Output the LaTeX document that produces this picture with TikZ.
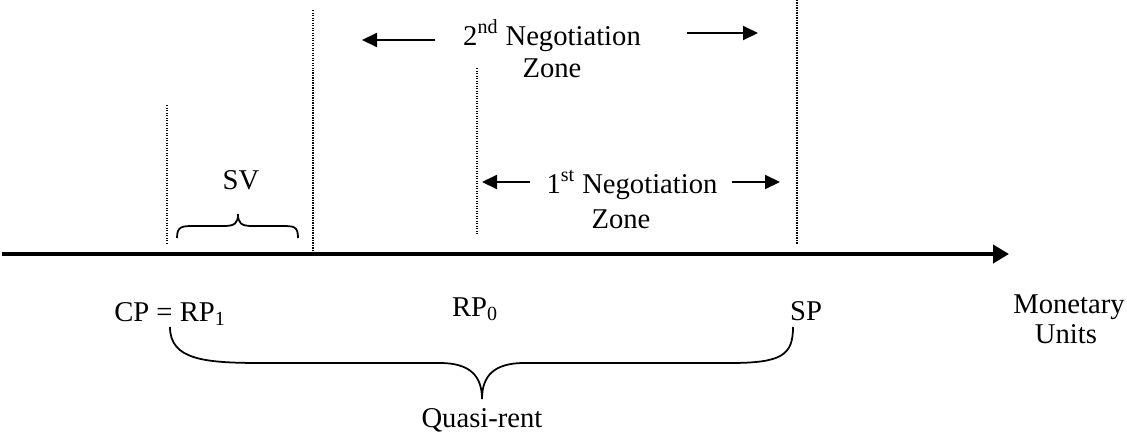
\documentclass[tikz,border=0pt]{standalone}
\usepackage{fontspec}
\setmainfont{Liberation Serif}
\usetikzlibrary{arrows.meta,positioning}
\definecolor{cink}{HTML}{000000}

\begin{document}
\begin{tikzpicture}[
    x=0.2mm, y=-0.2mm,
    axis/.style={-{Triangle[length=3.2mm, width=3.6mm]}, line width=0.85mm, draw=cink},
    zarr/.style={-{Triangle[length=3mm, width=2.8mm]}, line width=0.4mm, draw=cink},
    dots/.style={draw=cink, line width=0.25mm, dash pattern=on 0.25mm off 0.25mm},
    brc/.style={draw=cink, line width=0.35mm},
    lbl/.style={font=\fontsize{16.3}{19}\selectfont, text=cink, inner sep=0pt, anchor=base},
  ]
  \useasboundingbox (0,0) rectangle (1127,435);

  % axis
  \coordinate (A0) at (2,254);
  \coordinate (A1) at (1009,254);
  \draw[axis] (A0) -- (A1);
  \node[lbl] (mon) at (1069,313) {Monetary};
  \node[lbl] (uni) at (1066,343) {Units};

  % dotted markers
  \coordinate (d1t) at (167,105); \coordinate (d1b) at (167,243);
  \coordinate (d2t) at (313,10);  \coordinate (d2b) at (313,252);
  \coordinate (d3t) at (477,68);  \coordinate (d3b) at (477,235);
  \coordinate (d4t) at (797,0);   \coordinate (d4b) at (797,244);
  \draw[dots] (d1t) -- (d1b);
  \draw[dots] (d2t) -- (d2b);
  \draw[dots] (d3t) -- (d3b);
  \draw[dots] (d4t) -- (d4b);

  % second zone
  \node[lbl] (z2a) at (552,45) {2\textsuperscript{nd} Negotiation};
  \node[lbl] (z2b) at (552,77) {Zone};
  \coordinate (z2l) at (435,40); \coordinate (z2lt) at (362,40);
  \coordinate (z2r) at (687,33); \coordinate (z2rt) at (758,33);
  \draw[zarr] (z2l) -- (z2lt);
  \draw[zarr] (z2r) -- (z2rt);

  % first zone
  \node[lbl] (z1a) at (632,193) {1\textsuperscript{st} Negotiation};
  \node[lbl] (z1b) at (621,228) {Zone};
  \coordinate (z1l) at (530,182); \coordinate (z1lt) at (482,182);
  \coordinate (z1r) at (732,182); \coordinate (z1rt) at (780,182);
  \draw[zarr] (z1l) -- (z1lt);
  \draw[zarr] (z1r) -- (z1rt);

  % SV
  \node[lbl] (sv) at (241,189) {SV};
  \coordinate (svl) at (177,238);
  \coordinate (svr) at (298,238);
  \coordinate (svt) at (238,214);
  \draw[brc] (svl) .. controls (177,226) and (182,226) .. (195,226) -- (224,226)
             .. controls (235,226) and (238,223) .. (svt)
             .. controls (238,223) and (241,226) .. (252,226) -- (281,226)
             .. controls (294,226) and (298,226) .. (svr);

  % prices
  \node[lbl] (cp) at (170,321) {CP = RP\textsubscript{1}};
  \node[lbl] (rp0) at (475,316) {RP\textsubscript{0}};
  \node[lbl] (sp) at (806,320) {SP};

  % quasi-rent
  \coordinate (qrl) at (170,327);
  \coordinate (qrr) at (793,327);
  \coordinate (qrt) at (482,399);
  \draw[brc] (qrl) .. controls (170,360) and (205,363) .. (262,363) -- (440,363)
             .. controls (470,363) and (482,376) .. (qrt)
             .. controls (482,376) and (494,363) .. (524,363) -- (730,363)
             .. controls (782,363) and (793,355) .. (qrr);
  \node[lbl] (qr) at (482,427) {Quasi-rent};
\end{tikzpicture}
\end{document}
